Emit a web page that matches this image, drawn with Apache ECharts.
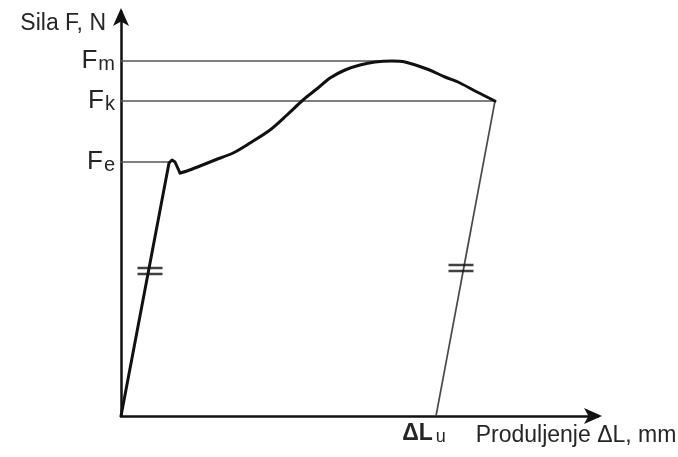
<!DOCTYPE html>
<html>
<head>
<meta charset="utf-8">
<script src="https://cdn.jsdelivr.net/npm/echarts@6/dist/echarts.min.js"></script>
<style>
  html, body { margin: 0; padding: 0; background: #fff; }
  #chart { width: 678px; height: 457px; }
</style>
</head>
<body>
<div id="chart"></div>
<script>
// force-elongation curve (arbitrary units)
// elastic part and the yield point: straight segments
const elasticPart = [[0, 0], [48, 253], [51, 256], [54, 254], [59, 243]]
// strain hardening up to the maximum and down to the break point: smooth
const hardeningPart = [
  [59, 243], [66, 245], [79, 250], [94, 256], [112, 263], [129, 273],
  [149, 286], [166, 301], [182, 316], [197, 328], [209, 338], [224, 346],
  [239, 351], [254, 354], [271, 355], [284, 354], [306, 347], [324, 339],
  [339, 333], [356, 324], [374, 315]
]
const unloading = [[374, 315], [315, 0]]

// force levels and where their guide lines end
const forceNames = ["e", "k", "m"]
const forceValues = [254, 315, 355]
const forceLineEnd = [49, 374, 271]

const lengthNames = ["u"]
const lengthValues = [315]

// "equal" hash marks on the two parallel lines
const hashMarks = [[29, 145], [340, 148]]

const TEXT = "#262626"
const FONT = '"Liberation Sans", Arial, sans-serif'

const chart = echarts.init(document.getElementById("chart"))

const guideSeries = forceValues.map((v, i) => ({
  type: "line",
  data: [[0, v], [forceLineEnd[i], v]],
  showSymbol: false,
  silent: true,
  lineStyle: { color: "#555", width: 1.7 },
  z: 1
}))

const curveStyle = { color: "#111", width: 3, join: "round", cap: "round" }

const option = {
  animation: false,
  grid: { left: 121, top: 12, width: 477, height: 404, outerBoundsMode: "none", containLabel: false },
  xAxis: {
    type: "value",
    min: 0,
    max: 477,
    splitLine: { show: false },
    axisTick: { show: false },
    axisLine: {
      onZero: false,
      symbol: ["none", "arrow"],
      symbolSize: [12, 18],
      symbolOffset: [0, 4],
      lineStyle: { color: "#111", width: 2.5 }
    },
    axisLabel: {
      customValues: lengthValues,
      margin: 6,
      formatter: v => {
        const i = lengthValues.indexOf(v)
        return i < 0 ? "" : "{a|ΔL}{s|" + lengthNames[i] + "}"
      },
      rich: {
        a: { fontSize: 23, fontWeight: "bold", lineHeight: 24, fontFamily: FONT, color: TEXT, verticalAlign: "top" },
        s: { fontSize: 18, lineHeight: 18, fontFamily: FONT, color: TEXT, verticalAlign: "bottom",
             padding: [9, 24, 0, 3] }
      }
    },
    name: "Produljenje ΔL, mm",
    nameLocation: "end",
    nameGap: 77,
    nameTextStyle: {
      align: "right",
      verticalAlign: "top",
      padding: [8, 0, 0, 0],
      fontSize: 23,
      fontFamily: FONT,
      color: TEXT
    }
  },
  yAxis: {
    type: "value",
    min: 0,
    max: 404,
    splitLine: { show: false },
    axisTick: { show: false },
    axisLine: {
      onZero: false,
      symbol: ["none", "arrow"],
      symbolSize: [12, 18],
      symbolOffset: [0, 4],
      lineStyle: { color: "#111", width: 2.5 }
    },
    axisLabel: {
      customValues: forceValues,
      margin: 6,
      formatter: v => {
        const i = forceValues.indexOf(v)
        return i < 0 ? "" : "{f|F}{s|" + forceNames[i] + "}"
      },
      rich: {
        f: { fontSize: 26, lineHeight: 26, fontFamily: FONT, color: TEXT, verticalAlign: "top" },
        s: { fontSize: 20, lineHeight: 20, fontFamily: FONT, color: TEXT, verticalAlign: "bottom",
             padding: [12, 0, 0, 1] }
      }
    },
    name: "Sila F, N",
    nameLocation: "end",
    nameGap: -12,
    nameTextStyle: {
      align: "right",
      verticalAlign: "middle",
      padding: [0, 15, 0, 0],
      fontSize: 23,
      fontFamily: FONT,
      color: TEXT
    }
  },
  series: [
    ...guideSeries,
    {
      type: "line",
      data: unloading,
      showSymbol: false,
      silent: true,
      lineStyle: { color: "#4a4a4a", width: 1.7 },
      z: 2
    },
    {
      type: "line",
      data: elasticPart,
      showSymbol: false,
      silent: true,
      lineStyle: curveStyle,
      z: 3
    },
    {
      type: "line",
      data: hardeningPart,
      smooth: 0.3,
      showSymbol: false,
      silent: true,
      lineStyle: curveStyle,
      z: 3
    },
    {
      type: "scatter",
      data: hashMarks,
      // two filled bars
      symbol: "path://M0,0H25V2.5H0ZM0,6H25V8.5H0Z",
      symbolSize: [25, 8.5],
      silent: true,
      itemStyle: { color: "#111" },
      z: 4
    }
  ]
}

chart.setOption(option)
</script>
</body>
</html>
